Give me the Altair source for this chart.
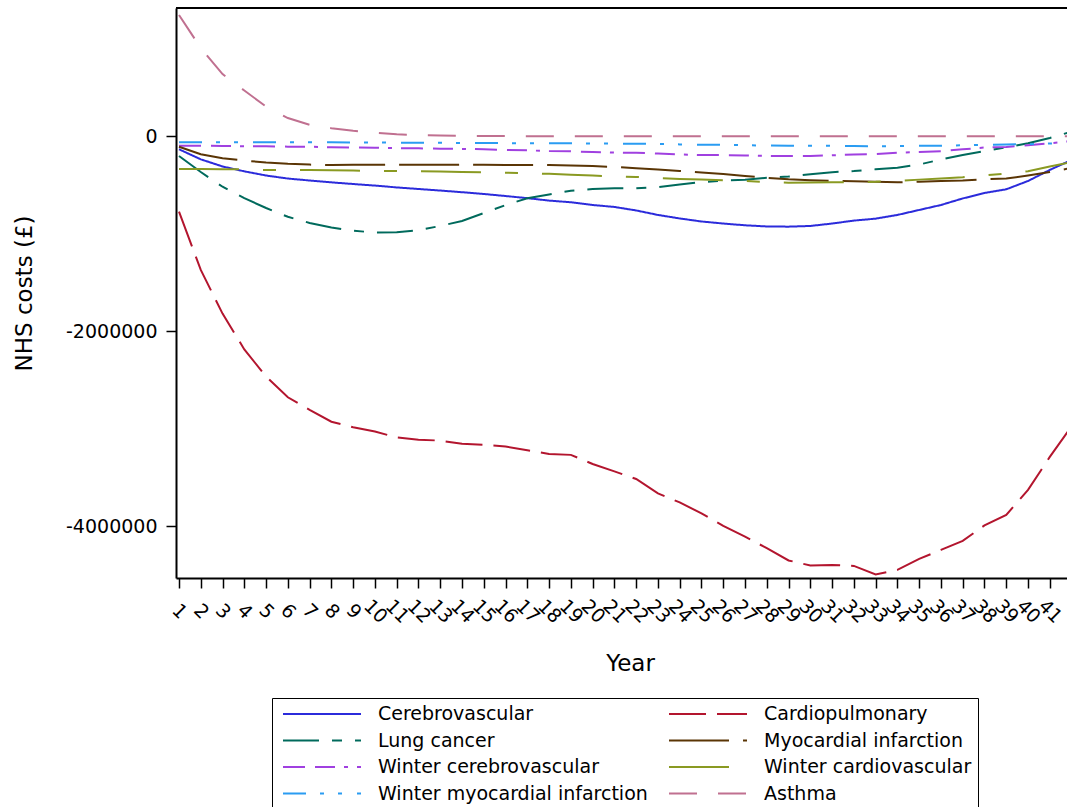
import altair as alt
import pandas as pd

years = list(range(1, 43))

# values, in thousands of pounds
cerebrovascular = [-136, -239, -312, -362, -405, -436, -456, -475, -492, -508,
                   -527, -543, -559, -576, -594, -615, -637, -662, -679, -707,
                   -727, -763, -809, -845, -876, -897, -915, -927, -929, -922,
                   -897, -867, -847, -809, -758, -707, -640, -584, -546, -461,
                   -348, -245]
cardiopulmonary = [-776, -1373, -1820, -2187, -2466, -2678, -2807, -2928, -2985, -3028,
                   -3090, -3112, -3122, -3155, -3166, -3182, -3220, -3258, -3268, -3361,
                   -3437, -3515, -3663, -3755, -3868, -3996, -4105, -4225, -4350, -4402,
                   -4396, -4406, -4493, -4447, -4334, -4242, -4150, -3991, -3883, -3627,
                   -3289, -2975]
lung_cancer = [-205, -369, -520, -637, -738, -828, -891, -937, -971, -989,
               -986, -965, -922, -871, -789, -708, -638, -599, -561, -544,
               -536, -536, -525, -497, -473, -457, -449, -429, -416, -392,
               -371, -359, -341, -326, -292, -241, -195, -154, -116, -74,
               -20, 45]
myocardial = [-110, -187, -228, -251, -272, -285, -293, -297, -295, -294,
              -294, -294, -294, -294, -295, -297, -297, -298, -301, -308,
              -317, -330, -343, -359, -374, -389, -410, -428, -443, -453,
              -461, -463, -469, -475, -469, -461, -456, -443, -436, -405,
              -369, -328]
winter_cerebro = [-99, -99, -102, -106, -106, -109, -110, -115, -117, -120,
                  -125, -126, -130, -132, -136, -142, -147, -154, -156, -165,
                  -170, -172, -179, -189, -195, -196, -199, -204, -205, -205,
                  -198, -190, -186, -171, -164, -156, -136, -118, -113, -94,
                  -75, -51]
winter_cardio = [-338, -339, -340, -342, -348, -348, -349, -352, -354, -358,
                 -359, -361, -365, -369, -373, -376, -381, -388, -398, -406,
                 -414, -420, -430, -440, -447, -454, -461, -471, -478, -477,
                 -475, -474, -470, -459, -447, -435, -422, -404, -384, -362,
                 -313, -266]
winter_mi = [-65, -65, -65, -65, -65, -65, -65, -65, -66, -67,
             -68, -69, -70, -71, -72, -73, -74, -75, -75, -77,
             -78, -79, -82, -86, -89, -90, -94, -98, -99, -100,
             -101, -102, -105, -103, -100, -99, -95, -90, -86, -84,
             -77, -67]
asthma = [1240, 902, 635, 466, 302, 184, 115, 79, 53, 33,
          17, 8, 5, 2, 0, -1, -2, -2, -2, -2,
          -2, -2, -2, -2, -2, -2, -2, -2, -2, -2,
          -2, -2, -2, -2, -2, -2, -2, -2, -2, -2,
          -2, -2]

names = ["Cerebrovascular", "Lung cancer", "Winter cerebrovascular",
         "Winter myocardial infarction", "Cardiopulmonary",
         "Myocardial infarction", "Winter cardiovascular", "Asthma"]
series_values = [cerebrovascular, lung_cancer, winter_cerebro, winter_mi,
                 cardiopulmonary, myocardial, winter_cardio, asthma]
colors = ["#2B2BDB", "#006A5C", "#A040E0", "#2A9CF2",
          "#B3152E", "#5A3505", "#8A9A22", "#C07090"]
dashes = [[1, 0], [36, 13, 10, 13], [22, 10, 20, 9, 4, 9], [23, 14, 4, 14, 4, 15],
          [37, 11], [60, 14], [60, 24, 13, 24], [28, 21]]

rows = []
for name, vals in zip(names, series_values):
    for yr, v in zip(years, vals):
        rows.append({"series": name, "year": yr, "value": v * 1000})
df = pd.DataFrame(rows)

W, H = 891, 570
FONT = "DejaVu Sans"

legend = alt.Legend(
    title=None, orient="none", legendX=96, legendY=690, direction="vertical",
    columns=2, symbolType="stroke", symbolSize=6084, symbolStrokeWidth=2,
    symbolOffset=4, clipHeight=20, rowPadding=6.5, columnPadding=16,
    labelOffset=16, labelFontSize=19, labelFont=FONT, labelColor="black",
    labelLimit=500, padding=6, strokeColor="black",
)

lines = alt.Chart(df).mark_line(strokeWidth=2, clip=True).encode(
    x=alt.X("year:Q",
            scale=alt.Scale(domain=[0.862, 41.79], nice=False, zero=False),
            axis=alt.Axis(values=list(range(1, 42)), title="Year", format="d",
                          labelAngle=45, labelAlign="center", labelBaseline="middle",
                          labelFontSize=19, labelPadding=23, labelOverlap=False,
                          labelFlush=False, tickSize=10, tickWidth=1.5,
                          domainWidth=2, grid=False,
                          titleFontSize=23, titleFontWeight="normal",
                          titleX=454, titleY=85, titleAlign="center",
                          titleBaseline="middle")),
    y=alt.Y("value:Q",
            scale=alt.Scale(domain=[-4530000, 1312000], nice=False, zero=False),
            axis=alt.Axis(values=[0, -2000000, -4000000],
                          labelExpr="'' + datum.value",
                          title="NHS costs (£)", labelFontSize=19, labelPadding=9,
                          tickSize=10, tickWidth=1.5, domainWidth=2, grid=False,
                          titleFontSize=23, titleFontWeight="normal",
                          titleAngle=270, titleX=-152, titleY=285,
                          titleAlign="center", titleBaseline="middle")),
    color=alt.Color("series:N", scale=alt.Scale(domain=names, range=colors),
                    legend=legend),
    strokeDash=alt.StrokeDash("series:N", scale=alt.Scale(domain=names, range=dashes),
                              legend=legend),
)

top = alt.Chart(pd.DataFrame({"a": [0]})).mark_rule(color="black", strokeWidth=2).encode(
    x=alt.value(0), x2=alt.value(W), y=alt.value(0)
)

chart = alt.layer(lines, top).properties(
    width=W, height=H,
    padding={"left": 176, "top": 8, "right": 0, "bottom": 229},
    autosize="none",
).configure_view(stroke=None).configure_axis(
    labelFont=FONT, titleFont=FONT, labelColor="black", titleColor="black",
    domainColor="black", tickColor="black",
)

chart.save("out.html", embed_options={"renderer": "svg", "actions": False})
